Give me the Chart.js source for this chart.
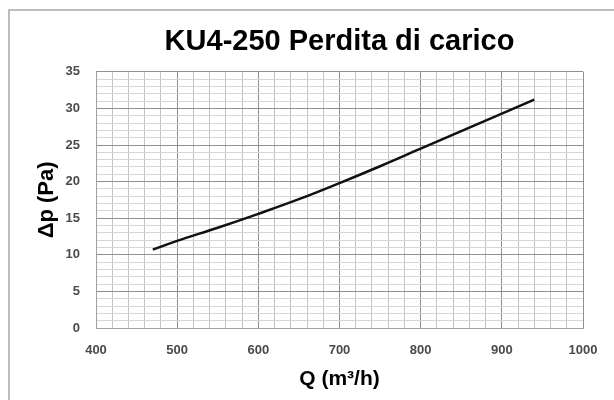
<!DOCTYPE html>
<html>
<head>
<meta charset="utf-8">
<script src="https://cdn.jsdelivr.net/npm/chart.js@4.4.0/dist/chart.umd.min.js"></script>
<style>
    html, body { margin: 0; padding: 0; background: #fff; overflow: hidden; }
    #wrap { position: relative; width: 614px; height: 400px; }
    #frame { position: absolute; left: 8px; top: 9px; width: 700px; height: 500px; border: 2px solid #bdbdbd; }
    canvas { position: absolute; left: 0; top: 0; }
</style>
</head>
<body>
<div id="wrap">
    <div id="frame"></div>
    <canvas id="chart" width="614" height="400"></canvas>
</div>
<script>
// Portata (m3/h) e perdita di carico (Pa)
const flowQ = [470, 500, 550, 600, 650, 700, 750, 800, 850, 900, 940];
const pressureDrop = [10.7, 11.9, 13.7, 15.6, 17.6, 19.8, 22.1, 24.5, 26.9, 29.3, 31.2];

const xTicks = [400, 500, 600, 700, 800, 900, 1000];
const yTicks = [0, 5, 10, 15, 20, 25, 30, 35];

const MAJOR = '#8f8f8f';
const tickFont = { family: "'Liberation Sans', Arial, sans-serif", size: 13, weight: 'bold' };

const points = flowQ.map((q, i) => ({ x: q, y: pressureDrop[i] }));

new Chart(document.getElementById('chart'), {
    type: 'line',
    data: {
        datasets: [{
            data: points,
            borderColor: '#111',
            borderWidth: 2.5,
            pointRadius: 0,
            tension: 0.4,
            fill: false
        }]
    },
    options: {
        responsive: false,
        animation: false,
        layout: { padding: { left: 0, right: 31, top: 0, bottom: 0 } },
        plugins: {
            legend: { display: false },
            tooltip: { enabled: false },
            title: {
                display: true,
                text: 'KU4-250 Perdita di carico',
                color: '#000',
                fullSize: false,
                font: { family: "'Liberation Sans', Arial, sans-serif", size: 29, weight: 'bold' },
                padding: { top: 25, bottom: 12 }
            }
        },
        scales: {
            x: {
                type: 'linear',
                min: xTicks[0],
                max: xTicks[xTicks.length - 1],
                afterFit: s => { s.height = 72; },
                ticks: {
                    stepSize: 20,
                    autoSkip: false,
                    maxRotation: 0,
                    padding: 15,
                    color: '#4a4a4a',
                    font: tickFont,
                    callback: v => xTicks.includes(v) ? v : ''
                },
                grid: {
                    drawTicks: false,
                    color: ctx => (ctx.tick && ctx.tick.value % 100 === 0) ? MAJOR : '#c4c4c4'
                },
                border: { color: '#a0a0a0' },
                title: {
                    display: true,
                    text: 'Q (m³/h)',
                    color: '#000',
                    font: { family: "'Liberation Sans', Arial, sans-serif", size: 21, weight: 'bold' },
                    padding: { top: 0, bottom: 8 }
                }
            },
            y: {
                min: yTicks[0],
                max: yTicks[yTicks.length - 1],
                afterFit: s => { s.width = 96; },
                ticks: {
                    stepSize: 1,
                    autoSkip: false,
                    padding: 16,
                    color: '#4a4a4a',
                    font: tickFont,
                    callback: v => yTicks.includes(v) ? v : ''
                },
                grid: {
                    drawTicks: false,
                    color: ctx => (ctx.tick && ctx.tick.value % 5 === 0) ? MAJOR : '#d6d6d6'
                },
                border: { color: '#a0a0a0' },
                title: {
                    display: true,
                    text: 'Δp (Pa)',
                    color: '#000',
                    font: { family: "'Liberation Sans', Arial, sans-serif", size: 22, weight: 'bold' },
                    padding: { top: 34, bottom: 0 }
                }
            }
        }
    }
});
</script>
</body>
</html>
